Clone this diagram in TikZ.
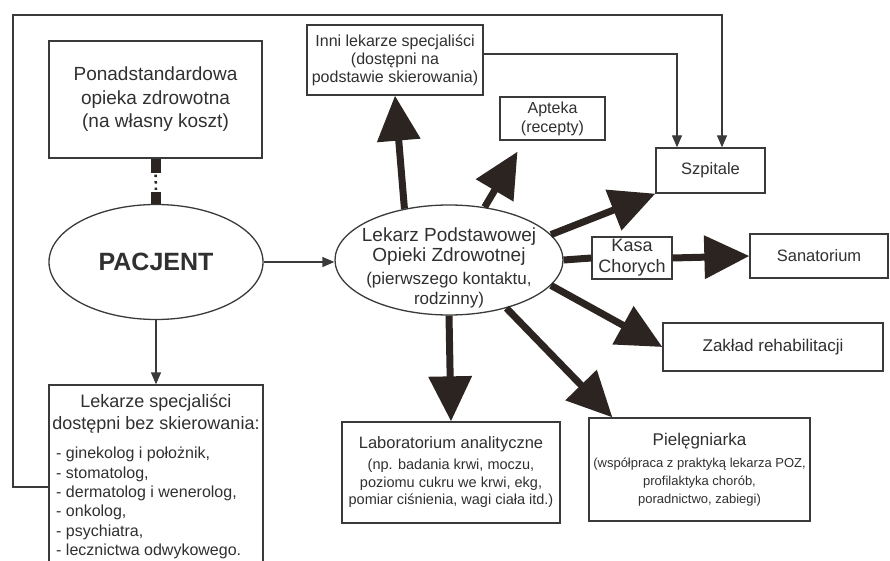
\documentclass[tikz,border=0pt]{standalone}
\usepackage{fontspec}
\setmainfont{Liberation Sans}
\usetikzlibrary{arrows.meta,shapes.geometric}
\definecolor{ink}{HTML}{303030}
\definecolor{edge}{HTML}{3a3a3a}
\definecolor{dark}{HTML}{2b2420}
\newcommand{\fsz}[2]{\fontsize{#1}{#2}\selectfont}

\begin{document}
\begin{tikzpicture}[x=1pt,y=-1pt,
		box/.style={draw=edge,line width=1.3pt,fill=white,inner sep=0pt,align=center,text=ink},
		oval/.style={ellipse,draw=edge,line width=1.3pt,fill=white,inner sep=0pt,align=center,text=ink},
		label text/.style={text=ink,inner sep=0pt},
		link/.style={draw=edge,line width=1.3pt,-{Triangle[length=12pt,width=10pt]}},
		fat/.style={draw=dark,line width=7pt,-{Triangle[length=45pt,width=42pt]}},
		fatline/.style={draw=dark,line width=7pt}]
		\useasboundingbox (0,0) rectangle (890,561);
		\node [box,minimum width=213pt,minimum height=117pt,font=\fsz{19}{23.5}] (ponad) at (155.5,99.5) {Ponadstandardowa\\opieka zdrowotna\\(na własny koszt)};
		\node [oval,minimum width=214pt,minimum height=115pt,font=\fsz{25}{30}\bfseries] (pacjent) at (156,262) {PACJENT};
		\node [box,minimum width=214pt,minimum height=204pt] (lekspec) at (156,487) {};
		\node [label text,align=center,font=\fsz{18}{22}] (lekHead) at (156,414) {Lekarze specjaliści\\dostępni bez skierowania:};
		\node [label text,align=left,anchor=north west,font=\fsz{16}{19.4}] (lekList) at (56,447) {- ginekolog i położnik,\\- stomatolog,\\- dermatolog i wenerolog,\\- onkolog,\\- psychiatra,\\- lecznictwa odwykowego.};
		\node [oval,minimum width=228pt,minimum height=110pt] (poz) at (449,260) {};
		\node [label text,align=center,font=\fsz{19}{20}] (pozText) at (449,268) {Lekarz Podstawowej\\Opieki Zdrowotnej\\[3pt]\fsz{17}{18}(pierwszego kontaktu,\\\fsz{17}{18}rodzinny)};
		\node [box,minimum width=176pt,minimum height=70pt,font=\fsz{16}{18}] (inni) at (395,60) {Inni lekarze specjaliści\\(dostępni na\\podstawie skierowania)};
		\node [box,minimum width=105pt,minimum height=43pt,font=\fsz{16}{19}] (apteka) at (552.5,118.5) {Apteka\\(recepty)};
		\node [box,minimum width=109pt,minimum height=45pt,font=\fsz{16.5}{19}] (szpitale) at (710.5,170.5) {Szpitale};
		\node [box,minimum width=80pt,minimum height=42pt,font=\fsz{18}{21}] (kasa) at (632,258) {Kasa\\Chorych};
		\node [box,minimum width=138pt,minimum height=44pt,font=\fsz{16.5}{19}] (sanat) at (819,256) {Sanatorium};
		\node [box,minimum width=220pt,minimum height=48pt,font=\fsz{17}{20}] (zaklad) at (773,347) {Zakład rehabilitacji};
		\node [box,minimum width=218pt,minimum height=101pt,font=\fsz{16.5}{17.5}] (lab) at (451,472.5) {Laboratorium analityczne\\[3.5pt]\fsz{14.5}{17}(np. badania krwi, moczu,\\\fsz{14.5}{17}poziomu cukru we krwi, ekg,\\\fsz{14.5}{17}pomiar ciśnienia, wagi ciała itd.)};
		\node [box,minimum width=221pt,minimum height=103pt,font=\fsz{17}{18}] (piel) at (699.5,469.5) {Pielęgniarka\\[4pt]\fsz{13}{16}(współpraca z praktyką lekarza POZ,\\\fsz{13}{16}profilaktyka chorób,\\\fsz{13}{16}poradnictwo, zabiegi)};
		\coordinate (loopA) at (13,15);
		\coordinate (loopB) at (722,15);
		\coordinate (bendC) at (677,54);
		\coordinate (aptekaTip) at ([xshift=-35pt,yshift=-11pt]apteka.south);
		\coordinate (pielTip) at ([xshift=24pt]piel.north west);
		\draw [link] (lekspec.west) -| (loopA) -- (loopB) -- (loopB |- szpitale.north);
		\draw [link] (inni.east |- bendC) -- (bendC) -- (bendC |- szpitale.north);
		\draw [link] (pacjent.east) -- (pacjent.east -| poz.west);
		\draw [link] (pacjent.south) -- (lekspec.north);
		\draw [dark,line width=10pt] (ponad.south) -- ++(0,14);
		\draw [dark,line width=2.5pt,dash pattern=on 2.5pt off 4pt] ([yshift=-16pt]ponad.south) -- ([yshift=14pt]pacjent.north);
		\draw [dark,line width=10pt] (pacjent.north) -- ++(0,-12);
		\foreach \from/\to in {131/inni.south,56/aptekaTip,14/szpitale.south west,-14/zaklad.west,-40/pielTip,south/lab.north}
			\draw [fat] (poz.\from) -- (\to);
		\draw [fatline] (poz.east) -- (kasa.west);
		\draw [fat] (kasa.east) -- (sanat.west);
\end{tikzpicture}
\end{document}
